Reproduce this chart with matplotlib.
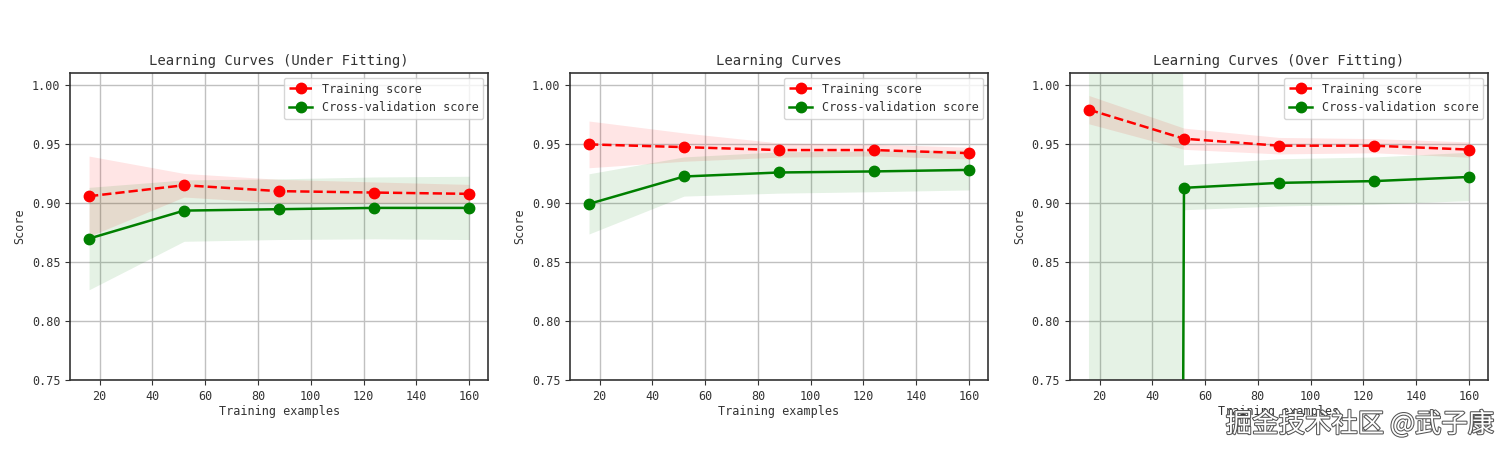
import numpy as np
import matplotlib
matplotlib.use("Agg")
import matplotlib.pyplot as plt
import matplotlib.patheffects as pe

# ---- data ----
train_sizes = [16, 52, 88, 124, 160]
titles = ["Learning Curves (Under Fitting)", "Learning Curves", "Learning Curves (Over Fitting)"]

under_train_mean = [0.9057, 0.9150, 0.9100, 0.9088, 0.9077]
under_train_std = [0.0340, 0.0100, 0.0100, 0.0090, 0.0080]
under_cv_mean = [0.8698, 0.8935, 0.8947, 0.8958, 0.8958]
under_cv_std = [0.0434, 0.0260, 0.0257, 0.0262, 0.0268]

mid_train_mean = [0.9496, 0.9473, 0.9448, 0.9448, 0.9422]
mid_train_std = [0.0198, 0.0120, 0.0060, 0.0050, 0.0050]
mid_cv_mean = [0.8992, 0.9224, 0.9258, 0.9267, 0.9280]
mid_cv_std = [0.0255, 0.0166, 0.0175, 0.0172, 0.0170]

over_train_mean = [0.9790, 0.9544, 0.9485, 0.9485, 0.9452]
over_train_std = [0.0120, 0.0090, 0.0070, 0.0060, 0.0065]
over_cv_mean = [-20.0, 0.9128, 0.9170, 0.9185, 0.9220]
over_cv_std = [30.0, 0.0190, 0.0200, 0.0200, 0.0205]

yticks = [0.75, 0.80, 0.85, 0.90, 0.95, 1.00]
xticks = [20, 40, 60, 80, 100, 120, 140, 160]

plt.rcParams['font.family'] = ['DejaVu Sans Mono', 'Noto Sans CJK SC']

fig = plt.figure(figsize=(15, 4.54), dpi=100)
lefts = [0.0467, 0.380, 0.7133]
panels = [
    (under_train_mean, under_train_std, under_cv_mean, under_cv_std),
    (mid_train_mean, mid_train_std, mid_cv_mean, mid_cv_std),
    (over_train_mean, over_train_std, over_cv_mean, over_cv_std),
]

for left, title, (tm, ts, cm, cs) in zip(lefts, titles, panels):
    ax = fig.add_axes([left, 0.163, 0.2787, 0.676])
    x = np.array(train_sizes)
    tm, ts, cm, cs = map(np.array, (tm, ts, cm, cs))
    ax.grid(True, color='#c0c0c0', linewidth=1.0)
    ax.set_axisbelow(True)
    ax.fill_between(x, tm - ts, tm + ts, alpha=0.1, color='r', linewidth=0)
    ax.fill_between(x, cm - cs, cm + cs, alpha=0.1, color='g', linewidth=0)
    ax.plot(x, tm, 'o--', color='r', label='Training score', markersize=7.5, linewidth=1.8)
    ax.plot(x, cm, 'o-', color='g', label='Cross-validation score', markersize=7.5, linewidth=1.8)
    ax.set_xlim(8.8, 167.2)
    ax.set_ylim(0.75, 1.01)
    ax.set_xticks(xticks)
    ax.set_yticks(yticks)
    ax.set_yticklabels([f"{v:.2f}" for v in yticks])
    ax.tick_params(labelsize=8.5, colors='#333333', labelcolor='#333333')
    for s in ax.spines.values():
        s.set_color('#333333')
        s.set_linewidth(1.2)
    ax.set_title(title, fontsize=10, color='#333333')
    ax.set_xlabel('Training examples', fontsize=8.5, color='#333333', labelpad=2)
    ax.set_ylabel('Score', fontsize=8.5, color='#333333', labelpad=4)
    leg = ax.legend(loc='upper right', fontsize=8.5, borderaxespad=0.4)
    for t in leg.get_texts():
        t.set_color('#333333')

fig.text(0.996, 0.035, "掘金技术社区 @武子康", ha='right', va='bottom', fontsize=19,
         color='white', family=['Noto Sans CJK SC', 'DejaVu Sans'],
         path_effects=[pe.withStroke(linewidth=1.5, foreground='#555555')])

fig.savefig("out.png", dpi=100, facecolor='white')
